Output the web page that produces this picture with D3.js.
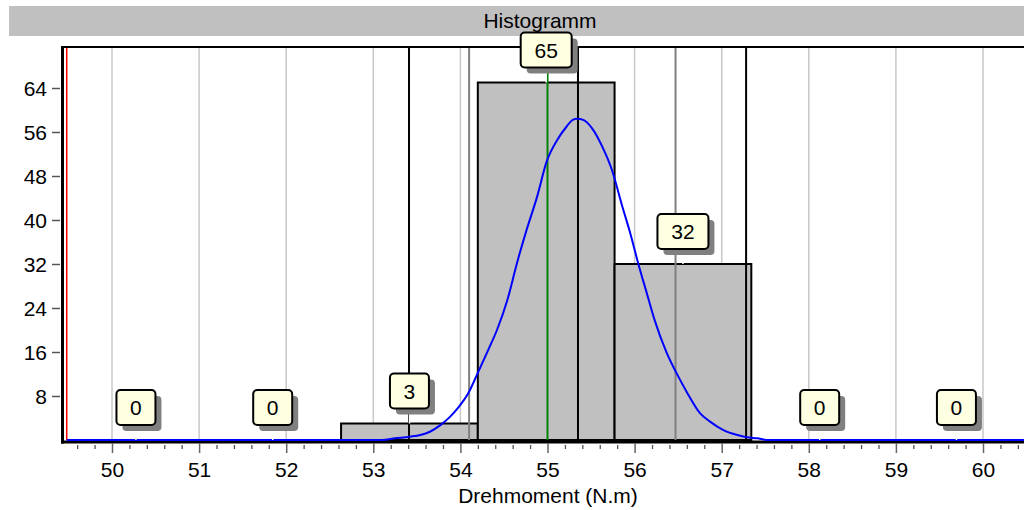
<!DOCTYPE html>
<html><head><meta charset="utf-8">
<script src="https://cdn.jsdelivr.net/npm/d3@7"></script>
<style>
html,body{margin:0;padding:0;background:#fff;}
svg{display:block;font-family:"Liberation Sans",Arial,sans-serif;}
</style></head>
<body><svg id="c" width="1024" height="510"></svg>
<script>
// ---- data ----
const titleText = "Histogramm";
const xLabel = "Drehmoment (N.m)";
const binEdges = [49.49, 51.06, 52.63, 54.20, 55.77, 57.34, 58.91, 60.48];
const counts = [0, 0, 3, 65, 32, 0, 0];
const xTicks = [50, 51, 52, 53, 54, 55, 56, 57, 58, 59, 60];
const yTicks = [8, 16, 24, 32, 40, 48, 56, 64];
const blackLines = [53.41, 55.35, 57.28];
const grayLines = [54.10, 56.47];
const greenLines = [55.00];
const redLines = [49.48];
const curveX = [49.48, 53.10, 53.25, 53.42, 53.54, 53.65, 53.77, 53.88, 53.97, 54.09, 54.20, 54.32, 54.42, 54.54, 54.65, 54.76, 54.88, 54.99, 55.11, 55.22, 55.29, 55.34, 55.41, 55.51, 55.63, 55.74, 55.86, 55.95, 56.04, 56.14, 56.23, 56.37, 56.48, 56.60, 56.75, 56.87, 57.02, 57.18, 57.29, 57.41, 57.52, 60.47];
const curveY = [0, 0, 0.3, 0.6, 0.9, 1.5, 2.7, 4.2, 5.8, 8.5, 12.2, 16.4, 20.0, 25.5, 32.2, 38.2, 44.2, 50.6, 54.5, 57.0, 58.2, 58.4, 58.2, 56.7, 53.3, 49.1, 42.4, 37.6, 32.2, 26.7, 21.8, 15.8, 12.2, 8.7, 4.9, 3.3, 1.8, 0.9, 0.5, 0.3, 0, 0];

// ---- layout ----
const svg = d3.select("#c");
const pLeft = 62, pRight = 1024, pTop = 47, pBottom = 440;
const x = d3.scaleLinear().domain([50, 60]).range([112, 983]);
const y = d3.scaleLinear().domain([0, 8]).range([pBottom, 396]);
const FS = 20, SX = 1.05;

// title bar
svg.append("rect").attr("x", 9).attr("y", 6).attr("width", 1015).attr("height", 30).attr("fill", "#c0c0c0");
svg.append("text").attr("transform", `translate(540,28) scale(${SX},1)`).attr("text-anchor", "middle")
  .attr("font-size", FS).attr("fill", "#000").text(titleText);

// gridlines
svg.append("g").selectAll("line").data(xTicks).join("line")
  .attr("x1", d => x(d)).attr("x2", d => x(d)).attr("y1", pTop).attr("y2", pBottom)
  .attr("stroke", "#c8c8c8").attr("stroke-width", 1.5);

// bars
const bins = counts.map((c, i) => ({x0: binEdges[i], x1: binEdges[i + 1], c}));
svg.append("g").selectAll("rect").data(bins.filter(b => b.c > 0)).join("rect")
  .attr("x", d => x(d.x0)).attr("y", d => y(d.c))
  .attr("width", d => x(d.x1) - x(d.x0)).attr("height", d => pBottom - y(d.c))
  .attr("fill", "#c0c0c0").attr("stroke", "#000").attr("stroke-width", 2);

// reference lines
function vlines(vals, color, w) {
  svg.append("g").selectAll("line").data(vals).join("line")
    .attr("x1", d => x(d)).attr("x2", d => x(d)).attr("y1", pTop).attr("y2", pBottom)
    .attr("stroke", color).attr("stroke-width", w);
}
vlines(grayLines, "#808080", 2);
vlines(blackLines, "#000", 2);
vlines(greenLines, "#008000", 2);
vlines(redLines, "#ff0000", 1.5);

// frame
svg.append("line").attr("x1", pLeft).attr("x2", pRight).attr("y1", 47).attr("y2", 47).attr("stroke", "#000").attr("stroke-width", 2);
svg.append("line").attr("x1", 62.5).attr("x2", 62.5).attr("y1", 46).attr("y2", 443.5).attr("stroke", "#000").attr("stroke-width", 3);
svg.append("line").attr("x1", 61).attr("x2", pRight).attr("y1", 442).attr("y2", 442).attr("stroke", "#000").attr("stroke-width", 3);

// y axis
const yAx = svg.append("g").attr("transform", "translate(60,0)")
  .call(d3.axisLeft(y).tickValues(yTicks).tickSize(8).tickPadding(5).tickFormat(d3.format("d")));
yAx.select(".domain").remove();
yAx.selectAll(".tick line").attr("stroke", "#555").attr("stroke-width", 1.5);
yAx.selectAll(".tick text").attr("font-size", FS).attr("font-family", "Liberation Sans, Arial, sans-serif")
  .attr("fill", "#000").attr("x", 0).attr("dy", "0.35em").attr("transform", `translate(-13,0) scale(${SX},1)`);

// x axis minor ticks
const minorTicks = d3.range(49.6, 60.45, 0.2).map(v => +v.toFixed(1)).filter(v => Math.abs(v - Math.round(v)) > 0.01);
const xMin = svg.append("g").attr("transform", "translate(0,445)")
  .call(d3.axisBottom(x).tickValues(minorTicks).tickSize(4).tickFormat(""));
xMin.select(".domain").remove();
xMin.selectAll(".tick line").attr("stroke", "#555").attr("stroke-width", 1.3);

// x axis major
const xAx = svg.append("g").attr("transform", "translate(0,443)")
  .call(d3.axisBottom(x).tickValues(xTicks).tickSize(10).tickFormat(d3.format("d")));
xAx.select(".domain").remove();
xAx.selectAll(".tick line").attr("stroke", "#666").attr("stroke-width", 1.5);
xAx.selectAll(".tick text").attr("font-size", FS).attr("font-family", "Liberation Sans, Arial, sans-serif")
  .attr("fill", "#000").attr("y", 0).attr("dy", 0).attr("transform", `translate(0,34) scale(${SX},1)`);

svg.append("text").attr("transform", `translate(548,503) scale(${SX},1)`).attr("text-anchor", "middle")
  .attr("font-size", FS).attr("fill", "#000").text(xLabel);

// normal curve
const pts = curveX.map((v, i) => [v, curveY[i]]);
svg.append("path").datum(pts)
  .attr("d", d3.line().x(d => x(d[0])).y(d => y(d[1])).curve(d3.curveMonotoneX))
  .attr("fill", "none").attr("stroke", "#0000ff").attr("stroke-width", 2);

// labels
const lab = svg.append("g").selectAll("g").data(bins).join("g")
  .attr("transform", d => `translate(${x((d.x0 + d.x1) / 2)},${y(d.c) - 15})`);
lab.append("line").attr("x1", 0).attr("x2", 0).attr("y1", 0).attr("y2", 15).attr("stroke", "#fff").attr("stroke-width", 1.5);
const bw = d => String(d.c).length > 1 ? 51 : 39;
lab.append("rect").attr("x", d => -bw(d) / 2 + 6).attr("y", -35 + 6).attr("width", bw).attr("height", 35)
  .attr("rx", 4).attr("fill", "#808080");
lab.append("rect").attr("x", d => -bw(d) / 2).attr("y", -35).attr("width", bw).attr("height", 35)
  .attr("rx", 4).attr("fill", "#ffffe1").attr("stroke", "#000").attr("stroke-width", 2);
lab.append("text").attr("transform", `translate(0,-10) scale(${SX},1)`).attr("text-anchor", "middle")
  .attr("font-size", FS).attr("fill", "#000").text(d => d.c);
</script></body></html>
